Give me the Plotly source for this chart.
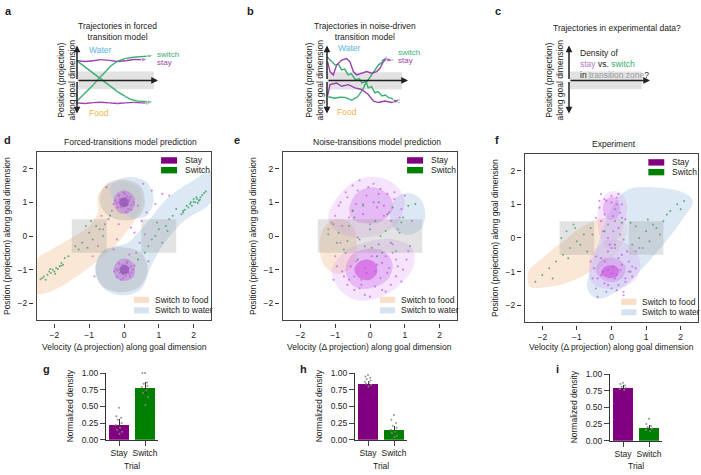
import plotly.graph_objects as go

W, H = 701, 475
FONT = "Liberation Sans, Arial, Helvetica, sans-serif"
INK = "#222222"

# ---------------- a / b / c : schematic trajectories (time, position) ----------------
a_stay_up_t = [0, 1, 2, 3, 4, 5, 6, 7, 8, 8.8]
a_stay_up_p = [1.75, 1.68, 1.74, 1.84, 1.78, 1.68, 1.74, 1.86, 1.84, 1.9]
a_stay_dn_t = [0, 1, 2, 3, 4, 5, 6, 7, 8, 9.3]
a_stay_dn_p = [-2.0, -2.06, -1.98, -1.94, -2.0, -2.06, -2.0, -1.95, -2.0, -2.04]
a_sw_dn_t = [0, 1, 2, 2.9, 4, 5, 6, 6.6, 7.5, 8.5, 9.5]
a_sw_dn_p = [1.74, 1.2, 0.65, 0.17, -0.45, -1.0, -1.45, -1.68, -1.84, -1.9, -1.92]
a_sw_up_t = [0, 1, 2, 2.5, 3.5, 4.2, 5, 6, 7, 8, 9.5]
a_sw_up_p = [-1.83, -1.15, -0.4, 0.0, 0.75, 1.3, 1.7, 1.95, 2.06, 2.12, 2.2]

b_sw_dn_t = [0, 0.5, 1.0, 1.4, 1.8, 2.2, 2.6, 3.0, 3.5, 4.0, 4.3, 4.8, 5.1, 5.5, 5.9, 6.3, 6.8, 7.2, 7.6, 8.0, 8.4, 9.0]
b_sw_dn_p = [2.09, 1.75, 1.36, 1.45, 0.93, 1.0, 0.49, 0.6, 0.06, 0.15, -0.23, -0.1, -0.67, -0.55, -1.1, -1.0, -1.39, -1.3, -1.54, -1.6, -1.83, -2.0]
b_sw_up_t = [0.16, 0.6, 0.99, 1.6, 2.22, 2.6, 3.05, 3.4, 3.66, 4.0, 4.28, 4.5, 4.69, 5.1, 5.4, 5.72, 6.0, 6.34, 6.7, 6.95, 7.37]
b_sw_up_p = [-1.45, -1.5, -1.59, -1.5, -1.51, -1.62, -1.77, -1.6, -1.54, -1.25, -0.96, -0.7, -0.38, 0.06, 0.3, 0.64, 1.0, 1.36, 1.55, 1.8, 2.09]
b_stay_up_t = [0.08, 0.37, 0.78, 1.19, 1.81, 2.43, 2.84, 3.25, 3.66, 4.28, 4.9, 5.52, 6.13, 6.54, 6.95, 7.37, 7.78, 8.2]
b_stay_up_p = [1.65, 0.78, 0.49, 1.36, 1.8, 1.94, 1.65, 0.78, 0.49, 0.64, 0.78, 0.64, 0.78, 1.07, 1.65, 1.94, 1.8, 1.8]
b_stay_dn_t = [0.08, 0.37, 1.19, 1.81, 2.63, 3.46, 4.28, 5.1, 5.72, 6.34, 7.16, 7.98, 9.0]
b_stay_dn_p = [-1.36, -0.38, -0.23, -0.52, -0.38, -0.67, -0.81, -1.25, -1.83, -1.97, -1.83, -1.97, -1.68]

band_a = ([0, 9.5], [-0.78, 0.78])
band_b = ([0, 9.26], [-0.8, 0.72])
band_c = ([0.1, 9.0], [-0.78, 0.78])

# ---------------- d : forced-transitions model ----------------
d_food = [(-2.55, -0.75), (-2.0, -0.35), (-1.5, -0.05), (-1.0, 0.3), (-0.75, 0.7), (-0.75, 1.2), (-0.45, 1.55),
          (0.1, 1.6), (0.45, 1.35), (0.5, 0.9), (0.3, 0.45), (0.05, 0.1), (-0.3, -0.35), (-0.9, -0.85),
          (-1.5, -1.3), (-2.0, -1.6), (-2.55, -1.7)]
d_water = [(2.52, 1.91), (1.94, 1.62), (1.26, 1.14), (0.78, 0.56), (0.39, 0.08), (0.1, -0.21), (-0.28, -0.31),
           (-0.67, -0.5), (-0.82, -1.08), (-0.57, -1.57), (0.0, -1.76), (0.49, -1.57), (0.78, -0.89),
           (1.16, -0.21), (1.74, 0.46), (2.52, 1.04)]
d_water_top = [(-0.4, 1.45), (0.1, 1.75), (0.65, 1.6), (0.85, 1.1), (0.65, 0.6), (0.2, 0.55), (-0.2, 0.9)]
d_gray = [
    [(-0.7, 1.07), (-0.5, 1.55), (-0.05, 1.68), (0.45, 1.5), (0.6, 1.0), (0.4, 0.55), (-0.05, 0.47), (-0.5, 0.65)],
    [(-0.82, -1.0), (-0.6, -0.45), (-0.07, -0.33), (0.5, -0.5), (0.68, -1.0), (0.45, -1.5), (-0.07, -1.67), (-0.6, -1.5)],
]
d_mid = [
    [(-0.3, 1.0), (-0.2, 1.28), (0.05, 1.35), (0.28, 1.18), (0.3, 0.88), (0.1, 0.68), (-0.15, 0.7)],
    [(-0.3, -1.0), (-0.15, -0.72), (0.1, -0.68), (0.3, -0.88), (0.28, -1.2), (0.03, -1.33), (-0.2, -1.26)],
]
d_core = [
    [(-0.14, 1.0), (-0.08, 1.12), (0.05, 1.14), (0.13, 1.04), (0.12, 0.92), (0.02, 0.86), (-0.09, 0.9)],
    [(-0.13, -1.0), (-0.07, -0.88), (0.06, -0.86), (0.14, -0.95), (0.12, -1.08), (0.01, -1.14), (-0.09, -1.1)],
]
d_stay_x = [-0.05, 0.08, -0.12, 0.15, 0.02, -0.2, 0.1, -0.08, 0.22, -0.15, 0.05, 0.0, -0.02, 0.12, -0.25, 0.18,
            -0.1, 0.07, 0.28, -0.18, 0.03, -0.06, 0.14, -0.3, 0.2, 0.01, -0.04, 0.09, -0.13, 0.06,
            0.02, -0.1, 0.12, -0.18, 0.2, 0.05, -0.05, 0.15, -0.22, 0.08, -0.02, 0.25, -0.12, 0.0, 0.1,
            -0.28, 0.18, -0.08, 0.06, 0.3, -0.15, 0.03, -0.04, 0.13, 0.22, -0.2, 0.07, -0.01, 0.11, -0.09,
            -0.45, -0.6, 0.35, 0.5, -0.3, 0.65, -0.75, 0.45, 0.9, -0.5, 0.55, 0.2, -0.2, 1.1, 0.7, -0.85,
            0.3, -0.35, 0.8, -0.9, 0.15, 0.6, -0.65, 1.3, 0.4, -0.15]
d_stay_y = [1.02, 0.95, 1.1, 1.05, 0.88, 0.98, 1.18, 0.85, 0.92, 1.2, 1.08, 0.98, 1.3, 0.8, 1.05, 1.15,
            0.92, 0.72, 1.0, 0.85, 1.25, 1.02, 1.08, 0.95, 0.78, 1.0, 0.9, 1.03, 1.0, 1.12,
            -1.0, -0.95, -1.08, -1.02, -0.9, -1.18, -0.85, -1.12, -0.98, -0.8, -1.25, -1.0, -1.1, -0.92, -0.75,
            -1.05, -1.2, -1.3, -0.97, -0.88, -0.82, -1.03, -1.15, -0.94, -1.08, -1.22, -1.0, -0.9, -1.05, -0.99,
            0.5, 0.2, -0.5, 0.45, -0.4, 0.7, -0.3, -0.2, 0.95, 1.45, 1.55, 0.25, -0.1, 1.25, -0.75, -1.2,
            0.1, 0.75, 1.35, -0.6, -0.55, 0.05, 0.6, 1.2, 0.9, 0.35]
d_switch_x = [1.65, 1.75, 1.85, 1.9, 1.95, 2.0, 2.05, 2.1, 2.15, 2.2, 2.25, 2.3, 1.8, 2.0, 2.12, 2.35, 1.7, 2.08, 1.92, 2.18,
              -2.35, -2.3, -2.2, -2.15, -2.1, -2.05, -2.0, -1.95, -1.9, -1.85, -2.25, -1.8, -2.12, -1.98, -2.4, -1.75,
              -1.2, -1.0, -0.8, -1.3, -0.9, -0.7, -1.1, -0.6, -1.4, -0.95, -1.6, -1.8, -0.4, 1.0, 1.2, 0.8, 1.3,
              0.9, 1.1, 0.7, 1.4, 1.5, 0.6, 0.4, -1.05, 0.95, -0.55, 1.25, -1.7, 1.7]
d_switch_y = [0.65, 0.78, 0.85, 0.95, 0.9, 1.02, 1.0, 1.1, 1.05, 1.15, 1.22, 1.28, 0.9, 1.1, 0.98, 1.32, 0.7, 1.15, 1.0, 1.08,
              -1.25, -1.2, -1.15, -1.05, -1.1, -1.0, -1.05, -0.95, -0.98, -0.9, -1.3, -0.88, -0.98, -1.12, -1.28, -0.85,
              -0.2, 0.1, 0.3, -0.4, -0.1, 0.2, 0.3, 0.0, -0.3, 0.45, -0.6, -0.8, 0.6, 0.2, 0.3, -0.1, 0.5,
              0.0, -0.2, -0.3, 0.6, 0.8, -0.5, -0.7, -0.35, 0.4, 0.35, 0.15, -0.65, 0.75]
d_zones = [(-1.5, -0.5), (0.5, 1.5)]

# ---------------- e : noise-transitions model ----------------
e_food = [(-1.45, -0.3), (-1.3, 0.3), (-0.9, 0.52), (-0.5, 0.3), (-0.38, -0.3), (-0.5, -0.9), (-0.9, -1.13), (-1.3, -0.9)]
e_water = [(0.58, 0.65), (0.72, 1.1), (1.08, 1.28), (1.45, 1.1), (1.59, 0.65), (1.45, 0.2), (1.08, 0.03), (0.72, 0.2)]
e_outer = [
    [(-1.2, 0.5), (-0.9, 1.2), (-0.4, 1.65), (0.2, 1.75), (0.75, 1.5), (1.0, 1.0), (0.8, 0.4), (0.3, 0.05), (-0.3, -0.05), (-0.9, 0.1)],
    [(-1.1, -1.0), (-0.9, -1.55), (-0.4, -1.9), (0.2, -1.85), (0.8, -1.5), (1.25, -0.9), (1.2, -0.35), (0.7, -0.1), (0.0, -0.15), (-0.7, -0.45)],
]
e_mid = [
    [(-0.6, 0.8), (-0.35, 1.3), (0.1, 1.45), (0.55, 1.2), (0.65, 0.8), (0.35, 0.45), (-0.1, 0.38), (-0.5, 0.5)],
    [(-0.7, -1.05), (-0.45, -1.5), (0.0, -1.55), (0.5, -1.3), (0.65, -0.85), (0.4, -0.45), (-0.1, -0.38), (-0.55, -0.6)],
]
e_core = [
    [(-0.45, -1.0), (-0.3, -1.25), (0.0, -1.3), (0.2, -1.1), (0.15, -0.8), (-0.1, -0.7), (-0.35, -0.8)],
]
e_stay_x = [-1.1, -0.9, -0.7, -0.5, -0.3, -0.1, 0.1, 0.3, 0.5, 0.7, 0.9, -0.8, -0.6, -0.4, -0.2, 0.0, 0.2, 0.4, 0.6, 0.8,
            -1.0, -0.75, -0.45, -0.15, 0.15, 0.45, 0.75, 1.05, -0.55, -0.25, 0.05, 0.35, 0.65, 0.95, 1.15, -0.85,
            -0.35, 0.25, 0.55, -0.65,
            -1.2, -1.0, -0.85, -0.65, -0.5, -0.35, -0.2, -0.05, 0.1, 0.25, 0.4, 0.55, 0.7, 0.85, 1.0, 1.2,
            -0.95, -0.7, -0.4, -0.1, 0.2, 0.5, 0.8, 1.1, -0.6, -0.3, 0.0, 0.3, 0.6, 0.9, -0.8, -0.45, -0.15,
            0.15, 0.45, 0.75, -1.05, -0.25, 0.35, 0.65]
e_stay_y = [0.4, 0.9, 1.3, 1.5, 1.65, 1.2, 1.55, 1.4, 1.25, 1.1, 0.8, 0.3, 0.55, 0.95, 0.65, 0.35, 0.85, 0.6, 0.45, 0.2,
            -0.6, -1.2, -1.6, -1.75, -1.5, -1.65, -1.2, -0.7, -0.9, -1.3, -0.6, -0.8, -0.5, -1.0, -0.3, -0.2,
            -0.05, -0.25, -0.95, -1.45,
            0.2, 0.6, 1.0, 1.15, 0.75, 1.35, 0.95, 1.45, 1.0, 1.25, 0.9, 0.7, 1.3, 0.55, 1.2, 0.45,
            -0.9, -0.5, -0.75, -1.1, -0.85, -1.1, -0.9, -0.45, -1.3, -1.55, -1.8, -1.25, -1.45, -1.35, -1.05, -1.2, -0.95,
            -1.05, -0.6, -0.7, -1.3, -1.45, -1.6, -0.25]
e_switch_x = [-0.9, -0.6, -0.3, 0.0, 0.3, 0.6, 0.9, -0.75, -0.45, -0.15, 0.15, 0.45, 0.75, -1.2, 1.1, -0.5, 0.2, 0.5,
              -0.2, 0.85, -0.95, 0.05, 0.35, -0.35, 0.65, 1.3, -1.05, 0.95, -0.65, 0.25]
e_switch_y = [0.1, 0.3, -0.1, 0.2, 0.0, -0.2, 0.4, -0.4, 0.55, -0.3, 0.45, 0.15, -0.45, 0.05, 0.9, 0.75, -0.6, 0.65,
              0.9, 0.1, -0.2, -0.35, -0.5, -0.7, 0.85, 0.95, 0.35, 0.55, -0.15, 1.0]
e_zones = [(-1.5, 1.5)]

# ---------------- f : experiment ----------------
f_food = [(-2.35, -1.45), (-2.4, -1.0), (-2.0, -0.6), (-1.4, -0.1), (-0.9, 0.3), (-0.4, 0.55), (0.1, 0.6),
          (0.45, 0.35), (0.35, -0.1), (0.0, -0.6), (-0.6, -1.0), (-1.2, -1.3), (-1.8, -1.45)]
f_water = [(0.58, 1.48), (1.54, 1.48), (2.12, 1.33), (2.35, 1.1), (2.03, 0.52), (1.54, -0.14), (0.87, -0.93),
           (0.29, -1.51), (-0.41, -1.8), (-0.7, -1.51), (-0.58, -0.84), (-0.29, 0.14), (0.0, 0.9), (0.29, 1.3)]
f_outer = [
    [(-0.4, 0.4), (-0.35, 1.0), (-0.1, 1.35), (0.25, 1.35), (0.45, 1.0), (0.35, 0.4), (0.15, -0.1), (-0.1, -0.3), (-0.3, -0.05)],
    [(-0.65, -1.0), (-0.55, -0.45), (-0.1, -0.05), (0.4, -0.15), (0.8, -0.6), (0.75, -1.15), (0.35, -1.45), (-0.2, -1.5), (-0.55, -1.35)],
]
f_mid = [
    [(-0.25, 0.85), (-0.15, 1.15), (0.1, 1.2), (0.25, 0.95), (0.15, 0.6), (-0.1, 0.55)],
    [(-0.45, -1.0), (-0.3, -0.65), (0.1, -0.6), (0.4, -0.85), (0.3, -1.2), (-0.1, -1.3)],
]
f_core = [
    [(-0.3, -1.05), (-0.18, -0.85), (0.08, -0.82), (0.22, -0.98), (0.12, -1.15), (-0.12, -1.18)],
]
f_stay_x = [-0.3, -0.15, 0.0, 0.15, 0.3, -0.2, 0.1, 0.25, -0.35, 0.05, 0.4, -0.1, 0.2, -0.45, 0.35,
            -0.5, -0.3, -0.1, 0.1, 0.3, 0.5, 0.7, -0.4, -0.2, 0.0, 0.2, 0.4, 0.6, -0.6, -0.25, 0.15, 0.45,
            0.8, -0.15, 0.05, 0.25, -0.45, 0.55, -0.05, 0.35,
            -0.2, 0.0, 0.2, -0.3, 0.1, 0.3, -0.1, 0.15, -0.25, 0.05, -0.35, 0.25,
            -0.3, -0.1, 0.1, 0.3, 0.5, -0.45, -0.2, 0.0, 0.2, 0.4, 0.6, -0.1, 0.15, 0.35, -0.55, 0.7, 0.0, -0.4]
f_stay_y = [1.3, 1.1, 1.25, 1.2, 1.0, 0.7, 0.5, 0.75, 0.9, 0.2, 0.55, 0.0, 0.3, 0.6, -0.05,
            -0.9, -0.6, -0.4, -0.3, -0.5, -0.7, -0.9, -1.2, -1.35, -1.5, -1.4, -1.3, -1.15, -0.7, -1.0, -1.1, -0.4,
            -0.3, -1.6, -0.85, -0.95, -1.5, -1.0, -0.2, -1.7,
            1.15, 1.05, 1.3, 0.5, 0.85, 0.6, 0.4, 1.0, 0.2, 0.65, 1.1, 0.1,
            -1.1, -0.95, -1.2, -0.8, -1.0, -0.55, -0.7, -1.05, -0.6, -1.2, -0.85, -1.4, -1.55, -1.6, -1.2, -0.4, -0.3, -1.75]
f_switch_x = [-2.0, -1.8, -1.6, -1.4, -1.2, -1.0, -0.8, -0.6, -1.3, -1.1, -0.9, -0.7, -1.45, -0.55, -1.05, -1.25,
              0.6, 0.8, 1.0, 1.2, 1.4, 0.7, 0.9, 1.1, 1.3, 1.5, 1.7, 1.9, 2.1, 1.6, 0.55, 1.05, -0.2, 0.1, 0.3,
              -2.2, -1.7, 2.0]
f_switch_y = [-1.1, -0.9, -0.7, -0.5, -0.3, -0.1, 0.1, 0.3, 0.2, 0.4, -0.2, -0.4, 0.0, 0.1, 0.3, -0.6,
              -0.2, 0.0, 0.2, 0.4, 0.1, 0.35, -0.3, -0.1, 0.3, 0.5, 0.8, 1.0, 1.1, 0.7, 0.45, 0.55, 0.2, -0.2, 0.45,
              -1.3, -1.2, 0.85]
f_zones = [(-1.5, -0.5), (0.5, 1.5)]

# ---------------- g / h / i : normalized density in transition zone ----------------
trials = ["Stay", "Switch"]
g_mean, g_lo, g_hi = [0.22, 0.77], [0.14, 0.68], [0.31, 0.86]
g_stay_pts = [0.48, 0.35, 0.33, 0.30, 0.25, 0.22, 0.18, 0.15, 0.12, 0.09]
g_switch_pts = [1.0, 1.0, 0.86, 0.84, 0.81, 0.79, 0.74, 0.70, 0.64, 0.52]
h_mean, h_lo, h_hi = [0.83, 0.15], [0.79, 0.10], [0.88, 0.21]
h_stay_pts = [0.97, 0.95, 0.93, 0.91, 0.89, 0.87, 0.86, 0.84, 0.82, 0.80]
h_switch_pts = [0.37, 0.30, 0.25, 0.21, 0.18, 0.15, 0.12, 0.10, 0.06, 0.04]
i_mean, i_lo, i_hi = [0.79, 0.19], [0.75, 0.15], [0.84, 0.24]
i_stay_pts = [0.87, 0.85, 0.83, 0.81, 0.79, 0.77, 0.76]
i_switch_pts = [0.33, 0.25, 0.22, 0.20, 0.18, 0.16, 0.14]
strip_offsets = [0.0, -0.1, 0.08, -0.05, 0.1, -0.12, 0.04, -0.08, 0.12, 0.02]

# colours
GREEN_L = "#3aae72"
PURPLE_L = "#9b3fae"
STAY = "#800080"
SWITCH = "#008000"
PEACH = "rgba(248,212,180,0.55)"
BLUE = "rgba(196,216,236,0.6)"


def refs(k):
    return ("x" if k == 1 else f"x{k}"), ("y" if k == 1 else f"y{k}")


def dx(a, b):
    return [a / W, b / W]


def dy(top, bot):
    return [1 - bot / H, 1 - top / H]


fig = go.Figure()


def line(k, t, p, color):
    xr, yr = refs(k)
    sizes = [0] * (len(t) - 1) + [7]
    fig.add_trace(go.Scatter(x=t, y=p, mode="lines+markers", xaxis=xr, yaxis=yr,
                             line=dict(color=color, width=1.4),
                             marker=dict(symbol="arrow", angleref="previous", size=sizes, color=color),
                             hoverinfo="skip"))


def poly(k, pts, color):
    xr, yr = refs(k)
    xs = [p[0] for p in pts] + [pts[0][0]]
    ys = [p[1] for p in pts] + [pts[0][1]]
    fig.add_trace(go.Scatter(x=xs, y=ys, mode="lines", fill="toself", fillcolor=color, xaxis=xr, yaxis=yr,
                             line=dict(width=0, shape="spline", smoothing=1.0), hoverinfo="skip"))


def dots(k, xs, ys, color, size=2.2, opacity=0.65):
    xr, yr = refs(k)
    fig.add_trace(go.Scatter(x=xs, y=ys, mode="markers", xaxis=xr, yaxis=yr, cliponaxis=False,
                             marker=dict(color=color, size=size, opacity=opacity, line=dict(width=0)),
                             hoverinfo="skip"))


# ---- schematics ----
line(1, a_stay_up_t, a_stay_up_p, PURPLE_L)
line(1, a_stay_dn_t, a_stay_dn_p, PURPLE_L)
line(1, a_sw_dn_t, a_sw_dn_p, GREEN_L)
line(1, a_sw_up_t, a_sw_up_p, GREEN_L)
line(2, b_sw_dn_t, b_sw_dn_p, GREEN_L)
line(2, b_sw_up_t, b_sw_up_p, GREEN_L)
line(2, b_stay_up_t, b_stay_up_p, PURPLE_L)
line(2, b_stay_dn_t, b_stay_dn_p, PURPLE_L)

# ---- scatter panels ----
panels = [
    (4, d_food, [d_water, d_water_top], d_gray, [], d_mid, d_core, d_stay_x, d_stay_y, d_switch_x, d_switch_y),
    (5, e_food, [e_water], [], e_outer, e_mid, e_core, e_stay_x, e_stay_y, e_switch_x, e_switch_y),
    (6, f_food, [f_water], [], f_outer, f_mid, f_core, f_stay_x, f_stay_y, f_switch_x, f_switch_y),
]
for k, food, waters, grays, outer, mid, core, sx, sy, wx, wy in panels:
    poly(k, food, PEACH)
    for w in waters:
        poly(k, w, BLUE)
    for g in grays:
        poly(k, g, "rgba(150,150,150,0.28)")
    for o in outer:
        poly(k, o, "rgba(218,150,238,0.26)")
    for m in mid:
        poly(k, m, "rgba(206,110,232,0.36)" if k != 4 else "rgba(190,100,220,0.45)")
    for c in core:
        poly(k, c, "rgba(205,45,215,0.45)" if k != 4 else "rgba(110,70,140,0.6)")
    dots(k, sx, sy, "#bb55dd")
    dots(k, wx, wy, "#2f9a55", size=2.0, opacity=0.75)

# ---- bar panels ----
bars = [(7, g_mean, g_lo, g_hi, g_stay_pts, g_switch_pts),
        (8, h_mean, h_lo, h_hi, h_stay_pts, h_switch_pts),
        (9, i_mean, i_lo, i_hi, i_stay_pts, i_switch_pts)]
for k, mean, lo, hi, sp, wp in bars:
    xr, yr = refs(k)
    fig.add_trace(go.Bar(x=[0, 1], y=mean, width=0.76, xaxis=xr, yaxis=yr,
                         marker=dict(color=[STAY, SWITCH], line=dict(width=0)),
                         error_y=dict(type="data", symmetric=False,
                                      array=[h - m for h, m in zip(hi, mean)],
                                      arrayminus=[m - l for m, l in zip(mean, lo)],
                                      thickness=1, width=0, color="#333333")))
    xs = [0 + o for o in strip_offsets[:len(sp)]] + [1 + o for o in strip_offsets[:len(wp)]]
    dots(k, xs, sp + wp, "#8a8a8a", size=2.0, opacity=0.9)

layout = dict(width=W, height=H, margin=dict(l=0, r=0, t=0, b=0), showlegend=False,
              paper_bgcolor="white", plot_bgcolor="rgba(0,0,0,0)",
              font=dict(family=FONT, size=8, color=INK), bargap=0)

for k, (l, r) in {1: (77, 158), 2: (327, 408), 3: (569, 650)}.items():
    xr, yr = refs(k)
    layout["xaxis" if k == 1 else f"xaxis{k}"] = dict(domain=dx(l, r), range=[0, 10], visible=False, anchor=yr)
    layout["yaxis" if k == 1 else f"yaxis{k}"] = dict(domain=dy(42.5, 111.5), range=[-3, 3], visible=False, anchor=xr)

scatter_dom = {4: (37, 211, 150, 322), 5: (283, 457, 150, 322), 6: (525, 698, 152, 324)}
for k, (l, r, t, b) in scatter_dom.items():
    common = dict(range=[-2.5, 2.5], tickvals=[-2, -1, 0, 1, 2], ticks="outside", ticklen=4, tickwidth=1,
                  tickcolor="#333333", showline=False, zeroline=False, showgrid=False,
                  tickfont=dict(size=8.5, color=INK), anchor="free")
    layout[f"xaxis{k}"] = dict(common, domain=dx(l, r), position=1 - (b + 3) / H)
    layout[f"yaxis{k}"] = dict(common, domain=dy(t, b), position=(l - 4) / W)
    # frame drawn by a separate, tick-less pair of axes on the same area
    fk = k + 6
    frame = dict(range=[0, 1], showline=True, mirror=True, linecolor="#444444", linewidth=1, ticks="",
                 showticklabels=False, showgrid=False, zeroline=False)
    layout[f"xaxis{fk}"] = dict(frame, domain=dx(l, r), anchor=f"y{fk}")
    layout[f"yaxis{fk}"] = dict(frame, domain=dy(t, b), anchor=f"x{fk}")
    fig.add_trace(go.Scatter(x=[None], y=[None], xaxis=f"x{fk}", yaxis=f"y{fk}", hoverinfo="skip"))

bar_dom = {7: (106, 158, 376, 444), 8: (355, 407, 376, 444), 9: (610, 662, 377, 445)}
for k, (l, r, t, b) in bar_dom.items():
    xr, yr = refs(k)
    layout[f"xaxis{k}"] = dict(domain=dx(l, r), range=[-0.5, 1.5], tickvals=[0, 1], ticktext=trials,
                               ticks="outside", ticklen=5, showline=True, linecolor="#333333", linewidth=1,
                               showgrid=False, zeroline=False, anchor=yr, tickfont=dict(size=8.5))
    layout[f"yaxis{k}"] = dict(domain=dy(t, b), range=[0, 1], tickvals=[0, 0.25, 0.5, 0.75, 1.0],
                               tickformat=".2f", ticks="outside", ticklen=5, showline=True,
                               linecolor="#333333", linewidth=1, showgrid=False, zeroline=False,
                               anchor=xr, tickfont=dict(size=8.5))

shapes = []
annotations = []


def note(x, y, text, xref="paper", yref="paper", size=8, color=INK, xanchor="center", angle=0, bold=False):
    if xref == "paper":
        x, y = x / W, 1 - y / H
    annotations.append(dict(x=x, y=y, xref=xref, yref=yref, text=f"<b>{text}</b>" if bold else text,
                            showarrow=False, xanchor=xanchor, yanchor="middle", textangle=angle,
                            font=dict(size=size, color=color, family=FONT)))


# schematic axes, bands and labels
for k, band in [(1, band_a), (2, band_b), (3, band_c)]:
    xr, yr = refs(k)
    shapes.append(dict(type="rect", xref=xr, yref=yr, x0=band[0][0], x1=band[0][1], y0=band[1][0], y1=band[1][1],
                       fillcolor="#e2e2e2", line=dict(width=0), layer="below"))
    for tip in [(10.0, 0), (0, 3.1), (0, -2.95)]:
        annotations.append(dict(x=tip[0], y=tip[1], ax=0, ay=0, xref=xr, yref=yr, axref=xr, ayref=yr,
                                text="", showarrow=True, arrowhead=2, arrowsize=0.9, arrowwidth=1.5,
                                arrowcolor="#222222", standoff=0))
    annotations.append(dict(x=10.25, y=0, xref=xr, yref=yr, text="time", showarrow=False, xanchor="left",
                            font=dict(size=8.5, color=INK, family=FONT)))

WATER_C, FOOD_C = "#5ab6dd", "#f0b24a"
note(100, 46, "Water", color=WATER_C, size=8.5)
note(99, 110, "Food", color=FOOD_C, size=8.5)
note(155, 51, "switch", color=GREEN_L, size=8, xanchor="left")
note(155, 59, "stay", color=PURPLE_L, size=8, xanchor="left")
note(349, 44, "Water", color=WATER_C, size=8.5)
note(347, 109, "Food", color=FOOD_C, size=8.5)
note(396, 49, "switch", color=GREEN_L, size=8, xanchor="left")
note(396, 57, "stay", color=PURPLE_L, size=8, xanchor="left")
annotations.append(dict(x=578 / W, y=1 - 60 / H, xref="paper", yref="paper", showarrow=False, xanchor="left",
                        yanchor="middle", align="left", font=dict(size=8.5, color=INK, family=FONT),
                        text="Density of<br><span style='color:#b47cc4'>stay</span> vs. "
                             "<span style='color:#3aae72'>switch</span><br>in "
                             "<span style='color:#9a9a9a'>transition zone</span>?"))
for x in [66, 314, 554]:
    note(x, 77, "Position (projection)<br>along goal dimension", angle=-90, size=8.5)
note(117, 27, "Trajectories in forced<br>transition model", size=8.5)
note(365, 27, "Trajectories in noise-driven<br>transition model", size=8.5)
note(617, 24, "Trajectories in experimental data?", size=8.5)

# panel letters
for x, y, s in [(3, 6, "a"), (245, 6, "b"), (493, 6, "c"), (2, 138, "d"), (232, 138, "e"), (493, 138, "f"),
                (41, 372, "g"), (298, 372, "h"), (554, 372, "i")]:
    note(x, y, s, size=11, xanchor="left", bold=True)

# scatter panel decorations
titles = {4: ("Forced-transitions model prediction", 130, 140), 5: ("Noise-transitions model prediction", 377, 140),
          6: ("Experiment", 614, 142)}
zones = {4: d_zones, 5: e_zones, 6: f_zones}
for k, (l, r, t, b) in scatter_dom.items():
    xr, yr = refs(k)
    for z0, z1 in zones[k]:
        shapes.append(dict(type="rect", xref=xr, yref=yr, x0=z0, x1=z1, y0=-0.5, y1=0.5,
                           fillcolor="rgba(150,150,150,0.27)", line=dict(width=0), layer="above"))
    for y0, y1, c in [(0.93, 0.968, STAY), (0.872, 0.91, SWITCH),
                      (0.103, 0.14, "rgba(249,222,200,1)"), (0.04, 0.077, "rgba(214,228,242,1)")]:
        x0, x1 = (0.713, 0.805) if c in (STAY, SWITCH) else (0.557, 0.644)
        shapes.append(dict(type="rect", xref=f"{xr} domain", yref=f"{yr} domain", x0=x0, x1=x1, y0=y0, y1=y1,
                           fillcolor=c, line=dict(width=0), layer="above"))
    for xx, yy, s in [(0.84, 0.949, "Stay"), (0.84, 0.891, "Switch"),
                      (0.667, 0.122, "Switch to food"), (0.667, 0.058, "Switch to water")]:
        annotations.append(dict(x=xx, y=yy, xref=f"{xr} domain", yref=f"{yr} domain", text=s, showarrow=False,
                                xanchor="left", yanchor="middle", font=dict(size=8.5, color=INK, family=FONT)))
    title, tx, ty = titles[k]
    note(tx, ty, title, size=8.5)
    note((l + r) / 2, 349, "Velocity (\u0394 projection) along goal dimension", size=8.5)
    note(l - 30, (t + b) / 2, "Position (projection) along goal dimension", angle=-90, size=8.5)

for k, (l, r, t, b) in bar_dom.items():
    note((l + r) / 2, 471, "Trial", size=8.5)
    note(l - 36, (t + b) / 2, "Normalized density", angle=-90, size=8.5)

layout["shapes"] = shapes
layout["annotations"] = annotations
fig.update_layout(**layout)
fig.write_html("out.html", config={"displayModeBar": False},
               post_script="document.body.style.margin='0';")
